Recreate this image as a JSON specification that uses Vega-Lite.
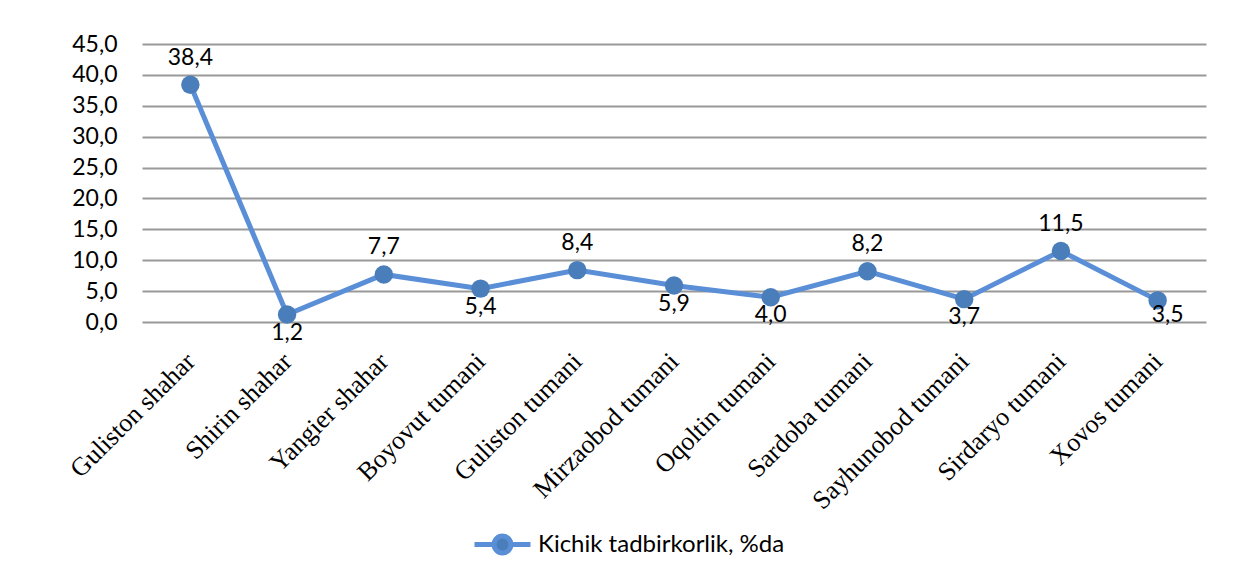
{
  "$schema": "https://vega.github.io/schema/vega-lite/v6.json",
  "width": 1064,
  "height": 278,
  "autosize": {"type": "none"},
  "padding": {"left": 142, "top": 44, "right": 27, "bottom": 255},
  "background": "white",
  "config": {
    "locale": {"number": {"decimal": ",", "thousands": " ", "grouping": [3], "currency": ["", ""]}},
    "view": {"stroke": null}
  },
  "data": {
    "values": [
      {"region": "Guliston shahar", "value": 38.4},
      {"region": "Shirin shahar", "value": 1.2},
      {"region": "Yangier shahar", "value": 7.7},
      {"region": "Boyovut tumani", "value": 5.4},
      {"region": "Guliston tumani", "value": 8.4},
      {"region": "Mirzaobod tumani", "value": 5.9},
      {"region": "Oqoltin tumani", "value": 4.0},
      {"region": "Sardoba tumani", "value": 8.2},
      {"region": "Sayhunobod tumani", "value": 3.7},
      {"region": "Sirdaryo tumani", "value": 11.5},
      {"region": "Xovos tumani", "value": 3.5}
    ]
  },
  "encoding": {
    "x": {
      "field": "region", "type": "nominal", "sort": null,
      "scale": {"type": "point", "padding": 0.5},
      "axis": {
        "title": null, "domain": false, "ticks": false, "grid": false,
        "labelAngle": -45, "labelAlign": "right", "labelBaseline": "middle",
        "labelFont": "Liberation Serif", "labelFontSize": 26, "labelColor": "#000000",
        "labelPadding": 35, "labelOverlap": false, "labelLimit": 0
      }
    },
    "y": {
      "field": "value", "type": "quantitative",
      "scale": {"domain": [0, 45], "nice": false},
      "axis": {
        "title": null, "domain": false, "ticks": false,
        "values": [0, 5, 10, 15, 20, 25, 30, 35, 40, 45],
        "format": ".1f", "labelFont": "Lato", "labelFontSize": 23, "labelColor": "#000000",
        "labelPadding": 25, "grid": true, "gridColor": "#999999", "gridWidth": 1.8
      }
    }
  },
  "layer": [
    {
      "mark": {"type": "line", "strokeWidth": 5, "color": "#5A8FD7"},
      "encoding": {
        "color": {
          "datum": "Kichik tadbirkorlik, %da",
          "scale": {"range": ["#5A8FD7"]},
          "legend": {
            "title": null, "orient": "none", "legendX": 330, "legendY": 470,
            "symbolType": "M-1,0L-0.3,0M0.3,0L1,0M0.3,0A0.3,0.3,0,1,1,-0.3,0A0.3,0.3,0,1,1,0.3,0",
            "symbolSize": 3136, "symbolStrokeWidth": 5,
            "labelFont": "Lato", "labelFontSize": 24, "labelColor": "#000000", "labelOffset": 5, "labelLimit": 0,
            "encode": {"symbols": {"update": {"fill": {"value": "#4A7EBB"}, "stroke": {"value": "#5A8FD7"}, "strokeWidth": {"value": 5}, "opacity": {"value": 1}}}}
          }
        }
      }
    },
    {
      "mark": {"type": "point", "filled": true, "size": 340, "color": "#4A7EBB", "opacity": 1}
    },
    {
      "transform": [{"filter": {"field": "region", "oneOf": ["Guliston shahar", "Yangier shahar", "Guliston tumani", "Sardoba tumani", "Sirdaryo tumani"]}}],
      "mark": {"type": "text", "dy": -27, "font": "Lato", "fontSize": 23, "color": "#000000", "baseline": "middle"},
      "encoding": {"text": {"field": "value", "type": "quantitative", "format": ".1f"}}
    },
    {
      "transform": [{"filter": {"field": "region", "oneOf": ["Shirin shahar", "Boyovut tumani", "Mirzaobod tumani", "Oqoltin tumani", "Sayhunobod tumani"]}}],
      "mark": {"type": "text", "dy": 18, "font": "Lato", "fontSize": 23, "color": "#000000", "baseline": "middle"},
      "encoding": {"text": {"field": "value", "type": "quantitative", "format": ".1f"}}
    },
    {
      "transform": [{"filter": {"field": "region", "oneOf": ["Xovos tumani"]}}],
      "mark": {"type": "text", "dy": 15, "dx": 10, "font": "Lato", "fontSize": 23, "color": "#000000", "baseline": "middle"},
      "encoding": {"text": {"field": "value", "type": "quantitative", "format": ".1f"}}
    }
  ]
}
